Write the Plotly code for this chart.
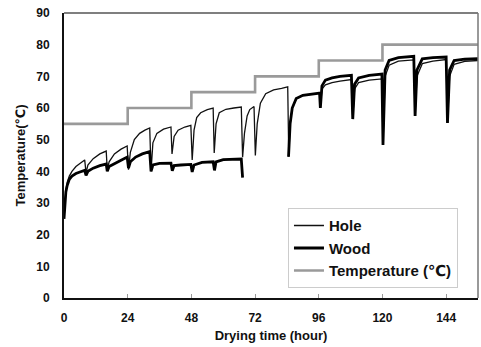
import plotly.graph_objects as go

# Kiln set-point temperature schedule (step function)
temp_x = [0, 24, 24, 48, 48, 72, 72, 96, 96, 120, 120, 156]
temp_y = [55, 55, 60, 60, 65, 65, 70, 70, 75, 75, 80, 80]

# Hole temperature
hole_x = [0, 0.3, 0.7, 1.2, 2, 3, 4.5, 6, 7.8, 8.3, 9, 11, 13.5, 15.9, 16.3, 17, 19, 21.5, 23.8,
          24.3, 25, 26.5, 28.5, 30.5, 32.3, 32.8, 33.5, 35, 37.5, 40.3, 40.7, 41.5, 43, 45.5, 47.8,
          48.3, 49, 50, 51.5, 54, 56.2, 56.6, 57.3, 58.5, 61, 64, 66.8, 67.3, 68, 69, 70, 71.6,
          72.1, 72.8, 74, 76, 79, 82, 84.3, 84.7, 85.2, 86, 87.5, 90, 93, 96.3, 96.6, 97.2, 98.5,
          101, 104, 108.3, 108.8, 109.5, 111, 115, 119.8, 120.2, 121, 122.5, 126, 131.8, 132.3,
          133, 135, 139, 144, 144.5, 145.3, 147, 151, 156]
hole_y = [25, 30, 34, 36.5, 38.5, 40, 41.5, 42.5, 43.6, 39.5, 42, 44, 45.5, 46.4, 40.5, 43, 45.5,
          47, 48, 40.5, 46, 50, 52, 53, 53.7, 40, 49, 52, 53.3, 54, 45.5, 51, 53, 54, 54.5, 43.6,
          53, 57, 58.5, 59.5, 60, 45.8, 55, 58.5, 59.6, 60, 60.3, 44.5, 52, 57.5, 59.5, 60.5, 45,
          55, 61.5, 64.5, 65.7, 66.2, 66.7, 44.6, 55, 60, 63, 64, 64.3, 64.7, 60, 66, 67.3, 68,
          68.5, 69, 56.5, 66, 68, 68.8, 69.2, 48.3, 70, 73.5, 74.8, 75.2, 57.5, 70, 74, 74.8, 75.3,
          55.3, 70, 73.8, 74.7, 75]

# Wood temperature (no readings between about 67.5 h and 84.5 h)
wood_x = [0, 0.3, 0.7, 1.2, 2, 3, 4.5, 6, 7.8, 8.3, 9, 11, 13.5, 15.9, 16.3, 17, 19, 21.5, 23.8,
          24.3, 25, 27, 29.5, 32.3, 32.8, 33.5, 36, 40.3, 40.8, 41.5, 44, 47.8, 48.3, 49, 52, 56.2,
          56.7, 57.3, 60, 66.8, 67.3, None, 84.6, 85.2, 86, 87.5, 90, 93, 96.3, 96.6, 97.2, 98.5,
          101, 104, 108.3, 108.8, 109.5, 111, 115, 119.8, 120.2, 121, 122.5, 126, 131.8, 132.3,
          133, 135, 139, 144, 144.5, 145.3, 147, 151, 156]
wood_y = [25, 30, 33.5, 35.5, 37.5, 38.5, 39.3, 39.8, 40.3, 38.7, 40, 41, 41.8, 42.3, 40, 41.5,
          42.5, 43.5, 44.5, 41, 43, 44.5, 45.5, 46.2, 40, 42, 42.5, 42.6, 40.2, 41.8, 42, 42.2,
          39.8, 42, 42.8, 43, 40.3, 43, 43.7, 43.9, 38, None, 44.6, 55, 60, 63, 64, 64.3, 64.7,
          60, 67, 68.8, 69.5, 70, 70.3, 56.5, 67.5, 69.5, 70.3, 70.7, 48.3, 72, 75, 75.9, 76.3,
          57.5, 72, 75.5, 75.9, 76.1, 55.3, 72, 75, 75.4, 75.6]

x_ticks = [0, 24, 48, 72, 96, 120, 144]
y_ticks = [0, 10, 20, 30, 40, 50, 60, 70, 80, 90]

FONT = "Liberation Sans, Arial, DejaVu Sans, sans-serif"

fig = go.Figure()
fig.add_trace(go.Scatter(x=hole_x, y=hole_y, mode="lines", name="<b>Hole</b>",
                         line=dict(color="#111111", width=1.3)))
fig.add_trace(go.Scatter(x=wood_x, y=wood_y, mode="lines", name="<b>Wood</b>",
                         line=dict(color="#000000", width=2.8), connectgaps=False))
fig.add_trace(go.Scatter(x=temp_x, y=temp_y, mode="lines", name="<b>Temperature (℃)</b>",
                         line=dict(color="#9a9a9a", width=2.6)))

# top and right frame lines are lighter than the axes
fig.add_shape(type="line", xref="paper", yref="paper", x0=0, x1=1, y0=1, y1=1,
              line=dict(color="#555555", width=1.5))
fig.add_shape(type="line", xref="paper", yref="paper", x0=1, x1=1, y0=0, y1=1,
              line=dict(color="#777777", width=1.5))

fig.update_layout(
    width=481, height=347,
    margin=dict(l=64, r=3, t=13, b=49),
    paper_bgcolor="white", plot_bgcolor="white",
    font=dict(family=FONT, size=12, color="#111111"),
    showlegend=True,
    legend=dict(x=0.541, y=0.315, xanchor="left", yanchor="top",
                bgcolor="white", bordercolor="#cccccc", borderwidth=1,
                font=dict(family=FONT, size=15, color="#111111"),
                itemwidth=30),
    xaxis=dict(range=[0, 156], tickvals=x_ticks,
               ticktext=[f"<b>{v}</b>" for v in x_ticks],
               showgrid=False, zeroline=False,
               showline=True, linecolor="#111111", linewidth=2,
               ticks="inside", ticklen=4, tickcolor="#999999",
               ticklabelstandoff=8,
               title=dict(text="<b>Drying time (hour)</b>", font=dict(size=13), standoff=6)),
    yaxis=dict(range=[0, 90], tickvals=y_ticks,
               ticktext=[f"<b>{v}</b>" for v in y_ticks],
               showgrid=False, zeroline=False,
               showline=True, linecolor="#111111", linewidth=2,
               ticks="", ticklabelstandoff=10,
               title=dict(text="<b>Temperature(℃)</b>", font=dict(size=13), standoff=8)),
)

fig.write_html("out.html")
